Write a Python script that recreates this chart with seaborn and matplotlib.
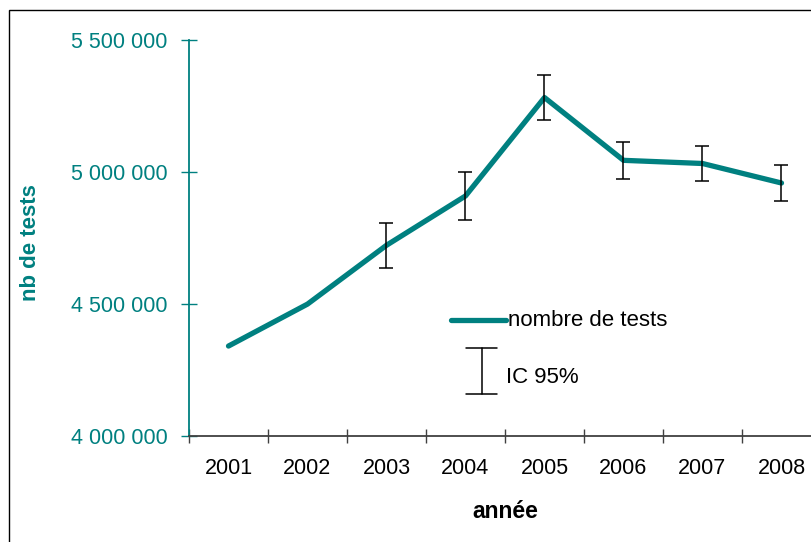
import numpy as np
import pandas as pd
import matplotlib
matplotlib.use('Agg')
import matplotlib.pyplot as plt
import seaborn as sb
from matplotlib.ticker import FuncFormatter, FixedLocator
from matplotlib.lines import Line2D
from matplotlib.patches import Rectangle

# Data
years = ['2001', '2002', '2003', '2004', '2005', '2006', '2007', '2008']
nb_tests = [4341000, 4500000, 4723000, 4910000, 5283000, 5045000, 5033000, 4959000]
ic_half = [np.nan, np.nan, 86000, 90000, 86000, 70000, 66000, 69000]

teal = '#008080'
axis_grey = '#404040'

sb.set_style('white')
plt.rcParams['font.family'] = ['Liberation Sans', 'DejaVu Sans']
plt.rcParams['text.color'] = 'black'

df = pd.DataFrame({'annee': years, 'tests': nb_tests, 'ic': ic_half})

fig = plt.figure(figsize=(8.12, 5.42), dpi=100)
ax = fig.add_axes([189 / 812, 106 / 542, 632 / 812, (436 - 40.3) / 542])

sb.lineplot(data=df, x='annee', y='tests', color=teal, linewidth=3.8, ax=ax,
            solid_capstyle='round', zorder=2)
err = df.dropna()
ax.errorbar(err['annee'], err['tests'], yerr=err['ic'], fmt='none',
            ecolor='black', elinewidth=1.1, capsize=4.7, capthick=1.1, zorder=3)

ax.set_ylim(4000000, 5500000)
ax.set_xlim(-0.5, 7.5)
ax.yaxis.set_major_locator(FixedLocator([4000000, 4500000, 5000000, 5500000]))
ax.yaxis.set_major_formatter(FuncFormatter(lambda v, p: '{:,.0f}'.format(v).replace(',', ' ')))

# x ticks on category boundaries, labels at category centres
ax.xaxis.set_major_locator(FixedLocator(np.arange(-0.5, 8, 1)))
ax.xaxis.set_minor_locator(FixedLocator(np.arange(0, 8, 1)))
ax.xaxis.set_major_formatter(FuncFormatter(lambda v, p: ''))
ax.set_xticklabels(years, minor=True)
ax.tick_params(axis='x', which='major', bottom=True, direction='inout', length=10,
               width=1, color=axis_grey)
ax.tick_params(axis='x', which='minor', bottom=True, length=0, pad=16,
               labelsize=15.5, labelcolor='black')
ax.tick_params(axis='y', left=True, direction='inout', length=11.5, width=1, color=teal,
               labelcolor=teal, labelsize=15.5, pad=9.5)

for s in ['top', 'right']:
    ax.spines[s].set_visible(False)
ax.spines['left'].set_color(teal)
ax.spines['left'].set_linewidth(1.3)
ax.spines['bottom'].set_color(axis_grey)
ax.spines['bottom'].set_linewidth(1.3)

ax.set_xlabel('année', fontsize=16.5, fontweight='bold', labelpad=15, color='black')
ax.set_ylabel('nb de tests', fontsize=16, fontweight='bold', color=teal)
ax.yaxis.set_label_coords(-0.234, 0.49)

# hand-made legend
ax.add_line(Line2D([0.414, 0.501], [0.293, 0.293], transform=ax.transAxes,
                   color=teal, linewidth=3.8, solid_capstyle='round'))
ax.text(0.504, 0.293, 'nombre de tests', transform=ax.transAxes, fontsize=16,
        va='center', ha='left', color='black')
ax.add_line(Line2D([0.463, 0.463], [0.106, 0.222], transform=ax.transAxes,
                   color='black', linewidth=1.1))
for yy in [0.106, 0.222]:
    ax.add_line(Line2D([0.439, 0.487], [yy, yy], transform=ax.transAxes,
                       color='black', linewidth=1.1))
ax.text(0.501, 0.148, 'IC 95%', transform=ax.transAxes, fontsize=16,
        va='center', ha='left', color='black')

# frame around the figure
fig.add_artist(Rectangle((9 / 812, -0.1), 1.2, (532 / 542) + 0.1,
                         transform=fig.transFigure, fill=False,
                         edgecolor='black', linewidth=1))

fig.savefig('out.png', dpi=100)
